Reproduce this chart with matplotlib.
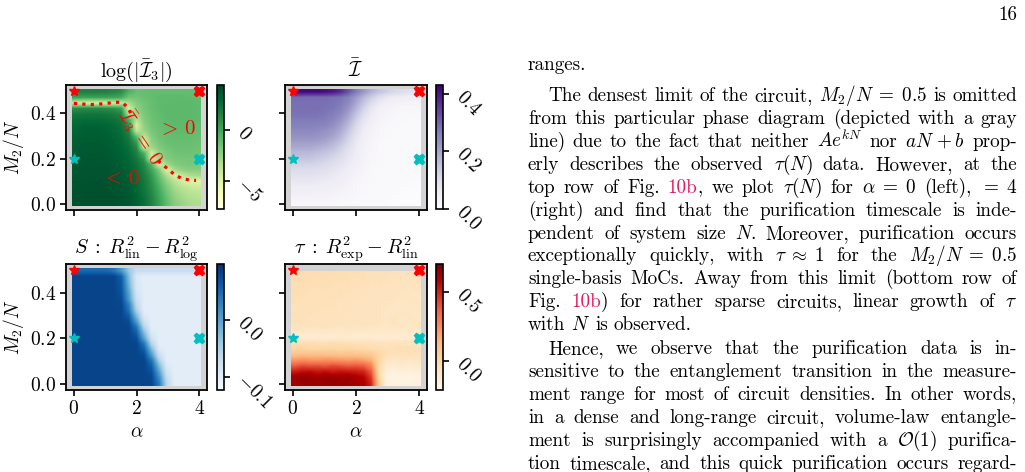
import numpy as np
import matplotlib
matplotlib.use("Agg")
import matplotlib.pyplot as plt

plt.rcParams['mathtext.fontset'] = 'cm'
plt.rcParams['font.family'] = 'serif'
plt.rcParams['font.serif'] = ['cmr10', 'DejaVu Serif']
plt.rcParams['axes.formatter.use_mathtext'] = True

# grid of the phase diagrams
alpha = [0, 0.25, 0.5, 0.75, 1.0, 1.25, 1.5, 1.75, 2.0, 2.25, 2.5, 2.75, 3.0, 3.25, 3.5, 3.75, 4.0]
m2n = [0, 0.025, 0.05, 0.075, 0.1, 0.125, 0.15, 0.175, 0.2, 0.225, 0.25,
       0.275, 0.3, 0.325, 0.35, 0.375, 0.4, 0.425, 0.45, 0.475, 0.5]

# log(|I3|), rows from M2/N = 0 upwards
i3_log = [
    [3.8, 3.9, 3.9, 3.9, 3.9, 3.9, 3.8, 3.6, 3.2, 2.5, 1.5, 0.3, -1.0, -2.0, -2.6, -3.0, -3.2],
    [3.8, 3.9, 3.9, 3.9, 3.9, 3.9, 3.8, 3.6, 3.1, 2.4, 1.4, 0.1, -1.2, -2.3, -2.9, -3.3, -3.5],
    [3.8, 3.9, 3.9, 3.9, 3.9, 3.8, 3.7, 3.5, 3.0, 2.2, 1.2, -0.1, -1.5, -2.6, -3.2, -3.6, -3.8],
    [3.7, 3.8, 3.8, 3.8, 3.8, 3.7, 3.6, 3.4, 2.9, 2.1, 1.0, -0.4, -1.9, -3.0, -3.7, -4.1, -4.3],
    [3.7, 3.8, 3.8, 3.8, 3.8, 3.7, 3.6, 3.3, 2.8, 2.0, 0.8, -0.8, -2.4, -3.6, -4.5, -5.0, -5.0],
    [3.6, 3.7, 3.7, 3.7, 3.7, 3.6, 3.5, 3.2, 2.7, 1.8, 0.5, -1.3, -3.2, -4.8, -4.0, -3.2, -3.0],
    [3.6, 3.7, 3.7, 3.7, 3.7, 3.6, 3.4, 3.1, 2.5, 1.5, 0.0, -2.0, -4.8, -3.0, -2.3, -2.1, -2.1],
    [3.5, 3.6, 3.6, 3.6, 3.6, 3.5, 3.3, 2.9, 2.3, 1.2, -0.8, -4.6, -2.8, -2.0, -1.8, -1.7, -1.8],
    [3.5, 3.6, 3.6, 3.6, 3.5, 3.4, 3.2, 2.8, 2.0, 0.6, -4.4, -2.8, -2.0, -1.7, -1.6, -1.6, -1.7],
    [3.4, 3.5, 3.5, 3.5, 3.5, 3.3, 3.1, 2.6, 1.6, -0.5, -4.4, -2.5, -1.8, -1.5, -1.4, -1.4, -1.5],
    [3.4, 3.5, 3.5, 3.5, 3.4, 3.2, 2.9, 2.4, 1.2, -3.8, -2.8, -1.9, -1.5, -1.3, -1.3, -1.3, -1.4],
    [3.3, 3.4, 3.4, 3.4, 3.3, 3.1, 2.8, 2.1, 0.4, -4.8, -2.3, -1.6, -1.3, -1.2, -1.2, -1.2, -1.3],
    [3.2, 3.3, 3.3, 3.3, 3.2, 3.0, 2.6, 1.8, -1.0, -3.7, -2.0, -1.4, -1.2, -1.1, -1.1, -1.1, -1.2],
    [3.0, 3.2, 3.2, 3.2, 3.1, 2.9, 2.5, 1.4, -3.8, -2.6, -1.7, -1.3, -1.1, -1.0, -1.0, -1.0, -1.1],
    [2.8, 3.0, 3.0, 3.0, 2.9, 2.7, 2.3, 0.8, -4.6, -2.3, -1.5, -1.2, -1.0, -1.0, -1.0, -1.0, -1.1],
    [2.5, 2.6, 2.6, 2.6, 2.5, 2.3, 1.9, -0.5, -3.5, -2.0, -1.4, -1.1, -1.0, -0.9, -0.9, -0.9, -1.0],
    [2.0, 2.1, 2.1, 2.1, 2.0, 1.8, 1.3, -3.5, -2.8, -1.8, -1.3, -1.1, -0.9, -0.9, -0.9, -0.9, -1.0],
    [1.0, 1.1, 1.1, 1.1, 1.0, 0.8, 0.3, -4.5, -2.4, -1.6, -1.2, -1.0, -0.9, -0.9, -0.9, -0.9, -1.0],
    [-4.2, -4.5, -4.5, -4.5, -4.5, -4.3, -4.0, -3.0, -2.0, -1.5, -1.2, -1.0, -1.0, -0.9, -0.9, -0.9, -1.0],
    [0.2, 0.2, 0.2, 0.2, 0.2, 0.1, -0.2, -1.5, -1.5, -1.3, -1.1, -1.0, -1.0, -1.0, -1.0, -1.0, -1.1],
    [1.5, 1.6, 1.6, 1.6, 1.5, 1.3, 1.0, -0.5, -1.2, -1.2, -1.1, -1.1, -1.1, -1.1, -1.1, -1.1, -1.2],
]

# mean I
i_bar = [
    [0.02, 0.02, 0.02, 0.02, 0.02, 0.02, 0.015, 0.015, 0.01, 0.01, 0.01, 0.01, 0.01, 0.005, 0.005, 0.005, 0.005],
    [0.03, 0.03, 0.03, 0.03, 0.03, 0.025, 0.02, 0.02, 0.015, 0.01, 0.01, 0.01, 0.01, 0.005, 0.005, 0.005, 0.005],
    [0.045, 0.045, 0.045, 0.04, 0.04, 0.035, 0.03, 0.025, 0.02, 0.015, 0.01, 0.01, 0.01, 0.01, 0.005, 0.005, 0.005],
    [0.055, 0.055, 0.055, 0.055, 0.05, 0.045, 0.04, 0.03, 0.02, 0.015, 0.01, 0.01, 0.01, 0.01, 0.01, 0.005, 0.005],
    [0.07, 0.07, 0.07, 0.065, 0.06, 0.055, 0.045, 0.035, 0.025, 0.02, 0.015, 0.01, 0.01, 0.01, 0.01, 0.01, 0.005],
    [0.085, 0.085, 0.085, 0.08, 0.075, 0.065, 0.055, 0.045, 0.03, 0.02, 0.015, 0.01, 0.01, 0.01, 0.01, 0.01, 0.01],
    [0.10, 0.10, 0.10, 0.095, 0.09, 0.08, 0.065, 0.05, 0.035, 0.025, 0.015, 0.01, 0.01, 0.01, 0.01, 0.01, 0.01],
    [0.12, 0.12, 0.12, 0.115, 0.105, 0.095, 0.08, 0.06, 0.04, 0.03, 0.02, 0.015, 0.01, 0.01, 0.01, 0.01, 0.01],
    [0.145, 0.145, 0.145, 0.135, 0.125, 0.11, 0.095, 0.07, 0.05, 0.03, 0.02, 0.015, 0.01, 0.01, 0.01, 0.01, 0.01],
    [0.165, 0.165, 0.165, 0.155, 0.145, 0.13, 0.11, 0.08, 0.055, 0.035, 0.02, 0.015, 0.01, 0.01, 0.01, 0.01, 0.01],
    [0.19, 0.19, 0.19, 0.18, 0.17, 0.155, 0.125, 0.095, 0.06, 0.035, 0.025, 0.015, 0.01, 0.01, 0.01, 0.01, 0.01],
    [0.21, 0.21, 0.21, 0.205, 0.195, 0.175, 0.15, 0.11, 0.07, 0.04, 0.025, 0.015, 0.01, 0.01, 0.01, 0.01, 0.01],
    [0.23, 0.23, 0.23, 0.225, 0.215, 0.2, 0.17, 0.125, 0.08, 0.045, 0.03, 0.02, 0.015, 0.01, 0.01, 0.01, 0.01],
    [0.245, 0.245, 0.245, 0.24, 0.23, 0.215, 0.19, 0.145, 0.095, 0.055, 0.035, 0.02, 0.015, 0.01, 0.01, 0.01, 0.01],
    [0.26, 0.26, 0.26, 0.255, 0.25, 0.235, 0.205, 0.165, 0.11, 0.065, 0.04, 0.025, 0.015, 0.015, 0.01, 0.01, 0.01],
    [0.27, 0.27, 0.27, 0.27, 0.265, 0.25, 0.225, 0.185, 0.13, 0.08, 0.05, 0.03, 0.02, 0.015, 0.015, 0.01, 0.01],
    [0.28, 0.28, 0.28, 0.28, 0.275, 0.265, 0.245, 0.205, 0.15, 0.10, 0.06, 0.035, 0.025, 0.02, 0.015, 0.015, 0.015],
    [0.285, 0.285, 0.285, 0.285, 0.28, 0.275, 0.26, 0.225, 0.175, 0.12, 0.075, 0.045, 0.03, 0.025, 0.02, 0.02, 0.02],
    [0.285, 0.285, 0.285, 0.285, 0.285, 0.28, 0.27, 0.245, 0.195, 0.145, 0.10, 0.065, 0.045, 0.035, 0.03, 0.03, 0.03],
    [0.29, 0.29, 0.29, 0.29, 0.29, 0.285, 0.28, 0.26, 0.215, 0.17, 0.13, 0.095, 0.07, 0.055, 0.05, 0.045, 0.045],
    [0.42, 0.42, 0.42, 0.42, 0.41, 0.40, 0.37, 0.32, 0.27, 0.22, 0.18, 0.15, 0.13, 0.11, 0.10, 0.09, 0.09],
]

# entropy fits: R2_lin - R2_log
s_diff = [
    [.08, .08, .08, .08, .08, .08, .08, .08, .08, .08, .078, .034, -.06, -.1, -.1, -.1, -.1],
    [.08, .08, .08, .08, .08, .08, .08, .08, .08, .08, .077, .02, -.07, -.1, -.1, -.1, -.1],
    [.08, .08, .08, .08, .08, .08, .08, .08, .08, .08, .07, .0, -.082, -.1, -.1, -.1, -.1],
    [.08, .08, .08, .08, .08, .08, .08, .08, .08, .08, .06, -.022, -.092, -.1, -.1, -.1, -.1],
    [.08, .08, .08, .08, .08, .08, .08, .08, .08, .08, .041, -.05, -.1, -.1, -.1, -.1, -.1],
    [.08, .08, .08, .08, .08, .08, .08, .08, .08, .074, .007, -.075, -.1, -.1, -.1, -.1, -.1],
    [.08, .08, .08, .08, .08, .08, .08, .08, .08, .06, -.022, -.092, -.1, -.1, -.1, -.1, -.1],
    [.08, .08, .08, .08, .08, .08, .08, .08, .08, .04, -.055, -.1, -.1, -.1, -.1, -.1, -.1],
    [.08, .08, .08, .08, .08, .08, .08, .08, .072, .0, -.08, -.1, -.1, -.1, -.1, -.1, -.1],
    [.08, .08, .08, .08, .08, .08, .08, .08, .058, -.026, -.093, -.1, -.1, -.1, -.1, -.1, -.1],
    [.08, .08, .08, .08, .08, .08, .08, .08, .04, -.055, -.1, -.1, -.1, -.1, -.1, -.1, -.1],
    [.08, .08, .08, .08, .08, .08, .08, .073, .005, -.078, -.1, -.1, -.1, -.1, -.1, -.1, -.1],
    [.08, .08, .08, .08, .08, .08, .08, .06, -.022, -.092, -.1, -.1, -.1, -.1, -.1, -.1, -.1],
    [.08, .08, .08, .08, .08, .08, .08, .041, -.05, -.1, -.1, -.1, -.1, -.1, -.1, -.1, -.1],
    [.08, .08, .08, .08, .08, .08, .078, .03, -.064, -.1, -.1, -.1, -.1, -.1, -.1, -.1, -.1],
    [.08, .08, .08, .08, .08, .08, .074, .007, -.075, -.1, -.1, -.1, -.1, -.1, -.1, -.1, -.1],
    [.08, .08, .08, .08, .08, .08, .07, .0, -.082, -.1, -.1, -.1, -.1, -.1, -.1, -.1, -.1],
    [.08, .08, .08, .08, .08, .08, .066, -.011, -.088, -.1, -.1, -.1, -.1, -.1, -.1, -.1, -.1],
    [.08, .08, .08, .08, .08, .08, .064, -.019, -.09, -.1, -.1, -.1, -.1, -.1, -.1, -.1, -.1],
    [.08, .08, .08, .08, .08, .08, .058, -.026, -.093, -.1, -.1, -.1, -.1, -.1, -.1, -.1, -.1],
    [.05, .05, .05, .05, .05, .04, .01, -.04, -.07, -.072, -.072, -.072, -.072, -.072, -.072, -.072, -.072],
]

# purification time fits: R2_exp - R2_lin (M2/N = 0.5 omitted)
tau_diff = [
    [0.62, 0.64, 0.65, 0.64, 0.63, 0.65, 0.64, 0.63, 0.62, 0.60, 0.50, 0.05, -0.16, -0.17, -0.18, -0.17, -0.16],
    [0.63, 0.66, 0.64, 0.62, 0.65, 0.64, 0.63, 0.64, 0.61, 0.58, 0.45, 0.0, -0.17, -0.18, -0.17, -0.18, -0.17],
    [0.52, 0.55, 0.56, 0.53, 0.55, 0.52, 0.54, 0.53, 0.52, 0.50, 0.38, -0.02, -0.15, -0.16, -0.15, -0.16, -0.15],
    [0.38, 0.42, 0.40, 0.41, 0.39, 0.42, 0.40, 0.38, 0.39, 0.37, 0.28, -0.02, -0.11, -0.12, -0.11, -0.12, -0.11],
    [0.22, 0.24, 0.23, 0.22, 0.24, 0.23, 0.22, 0.21, 0.22, 0.20, 0.16, 0.0, -0.08, -0.09, -0.08, -0.09, -0.08],
    [0.10, 0.11, 0.10, 0.11, 0.10, 0.10, 0.09, 0.10, 0.09, 0.08, 0.06, 0.0, -0.05, -0.06, -0.06, -0.05, -0.06],
    [0.0, 0.01, 0.0, -0.01, 0.0, 0.0, -0.01, 0.0, -0.01, -0.02, -0.03, -0.04, -0.05, -0.05, -0.04, -0.05, -0.05],
    [-0.04, -0.05, -0.04, -0.05, -0.05, -0.04, -0.05, -0.05, -0.06, -0.06, -0.06, -0.07, -0.07, -0.06, -0.07, -0.07, -0.07],
    [-0.12, -0.12, -0.13, -0.12, -0.12, -0.13, -0.12, -0.12, -0.13, -0.12, -0.12, -0.13, -0.12, -0.13, -0.12, -0.12, -0.13],
    [-0.10, -0.09, -0.10, -0.10, -0.09, -0.10, -0.10, -0.09, -0.10, -0.10, -0.10, -0.11, -0.10, -0.10, -0.11, -0.10, -0.10],
    [-0.06, -0.07, -0.06, -0.07, -0.06, -0.07, -0.08, -0.07, -0.08, -0.07, -0.08, -0.08, -0.09, -0.08, -0.08, -0.09, -0.08],
    [-0.06, -0.05, -0.07, -0.06, -0.07, -0.06, -0.07, -0.08, -0.07, -0.08, -0.07, -0.08, -0.08, -0.07, -0.09, -0.08, -0.08],
    [-0.05, -0.06, -0.05, -0.07, -0.06, -0.07, -0.06, -0.07, -0.08, -0.07, -0.08, -0.07, -0.09, -0.08, -0.08, -0.08, -0.09],
    [-0.06, -0.05, -0.06, -0.05, -0.07, -0.06, -0.07, -0.06, -0.07, -0.08, -0.07, -0.08, -0.08, -0.09, -0.08, -0.09, -0.08],
    [-0.05, -0.06, -0.05, -0.06, -0.05, -0.06, -0.07, -0.06, -0.07, -0.07, -0.08, -0.07, -0.08, -0.08, -0.09, -0.08, -0.08],
    [-0.05, -0.05, -0.06, -0.05, -0.06, -0.05, -0.06, -0.07, -0.06, -0.07, -0.07, -0.08, -0.07, -0.08, -0.08, -0.08, -0.09],
    [-0.04, -0.05, -0.05, -0.06, -0.05, -0.06, -0.05, -0.06, -0.07, -0.06, -0.07, -0.07, -0.08, -0.07, -0.08, -0.08, -0.08],
    [-0.04, -0.04, -0.05, -0.04, -0.05, -0.05, -0.06, -0.05, -0.06, -0.06, -0.07, -0.06, -0.07, -0.07, -0.07, -0.08, -0.07],
    [-0.03, -0.04, -0.04, -0.05, -0.04, -0.05, -0.05, -0.05, -0.06, -0.05, -0.06, -0.06, -0.06, -0.07, -0.07, -0.07, -0.07],
    [-0.03, -0.03, -0.04, -0.04, -0.04, -0.04, -0.05, -0.05, -0.05, -0.05, -0.06, -0.06, -0.06, -0.06, -0.07, -0.06, -0.07],
]

# I3 = 0 contour (two pieces, label sits in the gap)
line_a_alpha = [0.0, 0.29, 0.56, 0.80, 1.05, 1.29, 1.54, 1.72, 1.82]
line_a_m = [0.444, 0.441, 0.439, 0.441, 0.444, 0.449, 0.449, 0.426, 0.40]
line_b_alpha = [2.69, 2.87, 3.05, 3.24, 3.47, 3.72, 3.90]
line_b_m = [0.192, 0.170, 0.150, 0.127, 0.113, 0.106, 0.105]

# highlighted circuits
star_pts = [(0, 0.5, 'red'), (0, 0.2, 'c')]
x_pts = [(4, 0.5, 'red'), (4, 0.2, 'c')]

W, H = 1025, 472
fig = plt.figure(figsize=(W / 100, H / 100), dpi=100)


def box(x0, y0, x1, y1):
    return [x0 / W, 1 - y1 / H, (x1 - x0) / W, (y1 - y0) / H]


panels = [
    dict(z=i3_log, cmap='YlGn', lim=(-7.7, 4.4), top=0.50625,
         title=r'$\log(|\bar{\mathcal{I}}_3|)$', cticks=[-5, 0], clabels=['$-5$', '$0$'],
         ax=(66, 85, 207, 210), cax=(217, 85, 223.5, 209), ylab=True, xlab=False),
    dict(z=i_bar, cmap='Purples', lim=(0.0, 0.43), top=0.50625,
         title=r'$\bar{\mathcal{I}}$', cticks=[0.0, 0.2, 0.4], clabels=['$0.0$', '$0.2$', '$0.4$'],
         ax=(285, 85, 427, 210), cax=(436, 85, 442.5, 209), ylab=False, xlab=False),
    dict(z=s_diff, cmap='Blues', lim=(-0.123, 0.098), top=0.50625,
         title=r'$S\;:\;R^2_{\mathrm{lin}}-R^2_{\mathrm{log}}$', cticks=[-0.1, 0.0], clabels=['$-0.1$', '$0.0$'],
         ax=(66, 264, 207, 390), cax=(217, 264, 223.5, 390), ylab=True, xlab=True),
    dict(z=tau_diff, cmap='OrRd', lim=(-0.21, 0.70), top=0.49375,
         title=r'$\tau\;:\;R^2_{\mathrm{exp}}-R^2_{\mathrm{lin}}$', cticks=[0.0, 0.5], clabels=['$0.0$', '$0.5$'],
         ax=(285, 264, 427, 390), cax=(436, 264, 442.5, 390), ylab=False, xlab=True),
]

for p in panels:
    ax = fig.add_axes(box(*p['ax']))
    ax.set_facecolor('#d3d3d3')
    im = ax.imshow(np.array(p['z']), origin='lower', aspect='auto', cmap=p['cmap'],
                   vmin=p['lim'][0], vmax=p['lim'][1], interpolation='bilinear',
                   extent=(-0.05, 4.05, -0.00625, p['top']))
    for a, m, c in star_pts:
        ax.plot(a, m, '*', color=c, ms=7.5, zorder=5)
    for a, m, c in x_pts:
        ax.plot(a, m, 'X', color=c, ms=7.5, zorder=5)
    ax.set_xlim(-0.25, 4.25)
    ax.set_ylim(-0.025, 0.525)
    ax.set_xticks([0, 2, 4])
    ax.set_yticks([0.0, 0.2, 0.4])
    ax.set_xticklabels(['$0$', '$2$', '$4$'] if p['xlab'] else [])
    ax.set_yticklabels(['$0.0$', '$0.2$', '$0.4$'] if p['ylab'] else [])
    ax.tick_params(length=4, width=1.2, labelsize=14, pad=3)
    for s in ax.spines.values():
        s.set_linewidth(1.3)
    ax.set_title(p['title'], fontsize=14.5, pad=6)
    if p['ylab']:
        ax.set_ylabel('$M_2/N$', fontsize=14, labelpad=3)
    if p['xlab']:
        ax.set_xlabel(r'$\alpha$', fontsize=14, labelpad=4)

    cax = fig.add_axes(box(*p['cax']))
    cb = fig.colorbar(im, cax=cax)
    cb.outline.set_linewidth(1.2)
    cax.set_yticks(p['cticks'], labels=p['clabels'], rotation=-45,
                   rotation_mode='anchor', ha='left', va='center')
    cax.tick_params(length=4, width=1.2, labelsize=14, pad=8)

    if p['cmap'] == 'YlGn':
        ax.plot(line_a_alpha, line_a_m, ':', color='red', lw=2.3, zorder=4)
        ax.plot(line_b_alpha, line_b_m, ':', color='red', lw=2.3, zorder=4)
        ax.text(2.13, 0.295, r'$\bar{\mathcal{I}}_3\;=\;0$', color='red', fontsize=14,
                rotation=-56, ha='center', va='center')
        ax.text(3.29, 0.33, r'$>\,0$', color='red', fontsize=15, ha='center', va='center')
        ax.text(1.5, 0.112, r'$<\,0$', color='red', fontsize=15, ha='center', va='center')

# --- page text on the right ---
tax = fig.add_axes([0, 0, 1, 1])
tax.set_xlim(0, W)
tax.set_ylim(H, 0)
tax.axis('off')
renderer = fig.canvas.get_renderer()

PINK = '#e6195f'
BODY_FS = 13.8
LEFT, RIGHT, INDENT = 528, 1017, 548

body = [
    (70, False, False, "ranges."),
    (101, True, True, r"The densest limit of the circuit, $M_2/N\;=\;0.5$ is omitted"),
    (124, False, True, "from this particular phase diagram (depicted with a gray"),
    (147, False, True, r"line) due to the fact that neither $Ae^{kN}$ nor $aN\,+b$ prop-"),
    (170, False, True, r"erly describes the observed $\tau(N)$ data. However, at the"),
    (193, False, True, r"top row of Fig. @10b@, we plot $\tau(N)$ for $\alpha\;=\;0$ (left), $=\;4$"),
    (216, False, True, "(right) and find that the purification timescale is inde-"),
    (239, False, True, r"pendent of system size $N$. Moreover, purification occurs"),
    (261, False, True, r"exceptionally quickly, with $\tau\;\approx\;1$ for the $M_2/N\;=\;0.5$"),
    (284, False, True, "single-basis MoCs. Away from this limit (bottom row of"),
    (307, False, True, r"Fig. @10b@) for rather sparse circuits, linear growth of $\tau$"),
    (330, False, False, r"with $N$ is observed."),
    (354, True, True, "Hence, we observe that the purification data is in-"),
    (377, False, True, "sensitive to the entanglement transition in the measure-"),
    (400, False, True, "ment range for most of circuit densities. In other words,"),
    (423, False, True, "in a dense and long-range circuit, volume-law entangle-"),
    (446, False, True, r"ment is surprisingly accompanied with a $\mathcal{O}(1)$ purifica-"),
    (469, False, True, "tion timescale, and this quick purification occurs regard-"),
]

for y, indent, justify, line in body:
    x0 = INDENT if indent else LEFT
    words = []
    for w in line.split(' '):
        parts = []
        for k, piece in enumerate(w.split('@')):
            if piece == '':
                continue
            t = tax.text(0, y, piece, fontsize=BODY_FS, va='baseline', ha='left',
                         color=PINK if k % 2 else 'black')
            parts.append((t, t.get_window_extent(renderer).width))
        words.append(parts)
    widths = [sum(wd for _, wd in parts) for parts in words]
    gap = 5.5
    if justify and len(words) > 1:
        gap = (RIGHT - x0 - sum(widths)) / (len(words) - 1)
    x = x0
    for parts, wsum in zip(words, widths):
        xx = x
        for t, wd in parts:
            t.set_x(xx)
            xx += wd
        x += wsum + gap

tax.text(RIGHT, 20, '16', fontsize=BODY_FS, ha='right', va='baseline')

fig.savefig('out.png', dpi=100)
